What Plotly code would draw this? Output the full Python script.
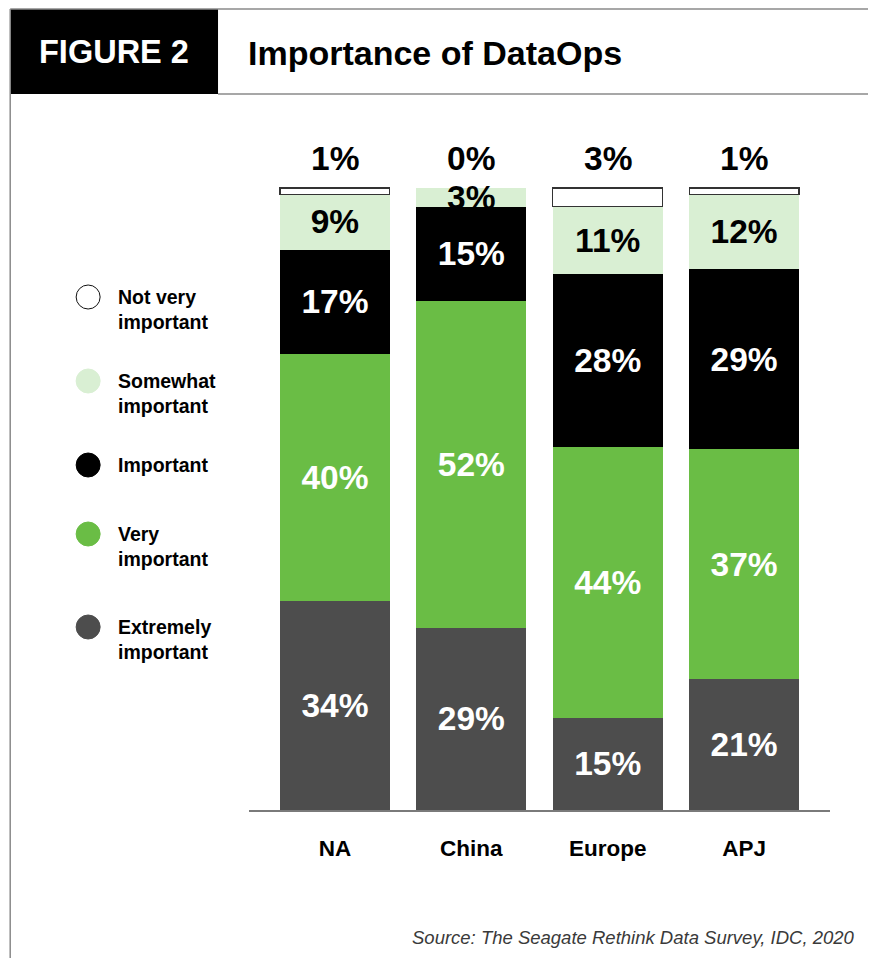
import plotly.graph_objects as go

# Veriler
regions = ["NA", "China", "Europe", "APJ"]
levels = [
    "Extremely important",
    "Very important",
    "Important",
    "Somewhat important",
    "Not very important",
]
extremely = [34, 29, 15, 21]
very = [40, 52, 44, 37]
important = [17, 15, 28, 29]
somewhat = [9, 3, 11, 12]
not_very = [1, 0, 3, 1]

legend_labels = [
    "Not very<br>important",
    "Somewhat<br>important",
    "Important",
    "Very<br>important",
    "Extremely<br>important",
]

# Stil ayarları
FONT = "Liberation Sans, Arial, sans-serif"
colors = ["#4d4d4d", "#6abd45", "#000000", "#d9efd3", "#ffffff"]
text_colors = ["white", "white", "white", "black", "black"]
legend_colors = ["#ffffff", "#d9efd3", "#000000", "#6abd45", "#4d4d4d"]

W, H = 876, 958
OFF = 8  # sayfa kenar boşluğu telafisi
BAR_TOP, BASE = 188, 810     # %100 ve %0 seviyeleri (referans pikseli)
PLOT_TOP = 170               # çizim alanı biraz daha yukarıdan başlasın
Y_MAX = 100 * (BASE - PLOT_TOP) / (BASE - BAR_TOP)
L, R, T, B = 249 - OFF, W - (830.5 - OFF), PLOT_TOP - OFF, H - (BASE - OFF)
PW, PH = W - L - R, H - T - B


def px(x):
    # referans pikseli -> paper (yatay)
    return (x - OFF - L) / PW


def py(y):
    # referans pikseli -> paper (dikey)
    return (H - B - (y - OFF)) / PH


series = [extremely, very, important, somewhat, not_very]

fig = go.Figure()
for i, (name, vals) in enumerate(zip(levels, series)):
    is_top = i == len(series) - 1
    xs, ys = regions, vals
    if is_top:
        # sıfır değerli çubuk çizilmesin (etiketi yine de üstte gösteriliyor)
        xs = [r for r, v in zip(regions, vals) if v > 0]
        ys = [v for v in vals if v > 0]
    fig.add_trace(
        go.Bar(
            x=xs,
            y=ys,
            name=name,
            marker=dict(
                color=colors[i],
                line=dict(color="#333333", width=1.2 if is_top else 0),
            ),
            text=None if is_top else [f"{v}%" for v in vals],
            textposition="inside",
            insidetextanchor="middle",
            constraintext="none",
            textfont=dict(family=FONT, size=33.5, color=text_colors[i], weight="bold"),
            cliponaxis=False,
            showlegend=False,
            hoverinfo="skip",
        )
    )

# En üstteki "Not very important" etiketleri
for reg, v in zip(regions, not_very):
    fig.add_annotation(
        x=reg, y=100, xref="x", yref="y",
        text=f"{v}%", showarrow=False,
        yanchor="middle", yshift=30,
        font=dict(family=FONT, size=33.5, color="black", weight="bold"),
    )

# Özel lejant (daire + iki satırlık metin)
legend_y_px = [297, 381, 465, 534, 627]
for lab, col, ly in zip(legend_labels, legend_colors, legend_y_px):
    fig.add_shape(
        type="circle", xref="paper", yref="paper",
        xsizemode="pixel", ysizemode="pixel",
        xanchor=px(88), yanchor=py(ly),
        x0=-12, x1=12, y0=-12, y1=12,
        fillcolor=col, line=dict(color="#111111" if col == "#ffffff" else col, width=1),
    )
    fig.add_annotation(
        x=px(116), y=py(ly - 13), xref="paper", yref="paper",
        text=lab, showarrow=False, xanchor="left", yanchor="top", align="left",
        font=dict(family=FONT, size=19.5, color="black", weight="bold"),
    )

# Başlık bölümü
line_col = "#8a8a8a"
fig.add_shape(type="rect", xref="paper", yref="paper",
              x0=px(10), x1=px(218), y0=py(94), y1=py(9),
              fillcolor="black", line=dict(width=0))
fig.add_shape(type="line", xref="paper", yref="paper",
              x0=px(10), x1=px(W + OFF), y0=py(9), y1=py(9),
              line=dict(color=line_col, width=1.5))
fig.add_shape(type="line", xref="paper", yref="paper",
              x0=px(218), x1=px(W + OFF), y0=py(94), y1=py(94),
              line=dict(color=line_col, width=1.5))
fig.add_shape(type="line", xref="paper", yref="paper",
              x0=px(10), x1=px(10), y0=py(9), y1=py(H + OFF),
              line=dict(color=line_col, width=1.5))
fig.add_annotation(
    x=px(114), y=py(52), xref="paper", yref="paper",
    text="FIGURE 2", showarrow=False, xanchor="center", yanchor="middle",
    font=dict(family=FONT, size=32.5, color="white", weight="bold"),
)
fig.add_annotation(
    x=px(246), y=py(53), xref="paper", yref="paper",
    text="Importance of DataOps", showarrow=False, xanchor="left", yanchor="middle",
    font=dict(family=FONT, size=34, color="black", weight="bold"),
)
fig.add_annotation(
    x=px(858), y=py(937), xref="paper", yref="paper",
    text="<i>Source: The Seagate Rethink Data Survey, IDC, 2020</i>",
    showarrow=False, xanchor="right", yanchor="middle",
    font=dict(family=FONT, size=18.5, color="#3a3a3a"),
)

fig.update_layout(
    width=W, height=H,
    margin=dict(l=L, r=R, t=T, b=B),
    barmode="stack", barnorm="percent", bargap=0.194,
    plot_bgcolor="white", paper_bgcolor="white",
    showlegend=False,
    font=dict(family=FONT),
)
fig.update_xaxes(
    range=[-0.63, 3.63], showline=True, linecolor="#7a7a7a", linewidth=1.5,
    showgrid=False, ticks="", ticklabelstandoff=17,
    tickfont=dict(family=FONT, size=22.5, color="black", weight="bold"),
)
fig.update_yaxes(range=[0, Y_MAX], visible=False, showgrid=False)

fig.write_html("out.html")
